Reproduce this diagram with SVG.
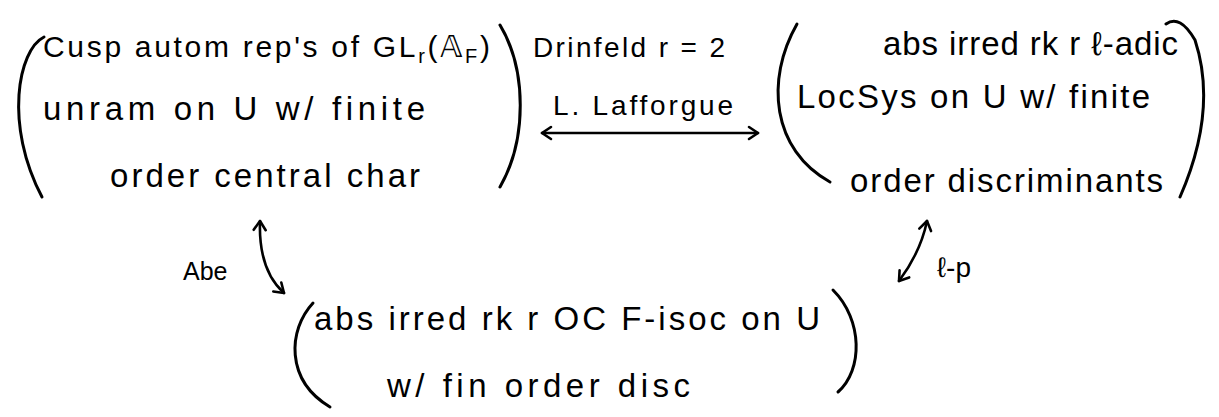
<svg xmlns="http://www.w3.org/2000/svg" width="1219" height="417" viewBox="0 0 1219 417">
<style>
.t{font-family:"Liberation Sans","DejaVu Sans",sans-serif;font-size:33px;fill:#000}
.t1{font-size:30px}
.s{font-size:20px}
.lbl{font-family:"Liberation Sans","DejaVu Sans",sans-serif;font-size:28px;fill:#000}
.sm{font-size:25px}
.br{fill:none;stroke:#000;stroke-width:3;stroke-linecap:round}
.ar{fill:none;stroke:#000;stroke-width:2.6;stroke-linecap:round}
</style>
<defs>
<marker id="h" markerUnits="userSpaceOnUse" viewBox="-12 -8 14 16" markerWidth="14" markerHeight="16" refX="0" refY="0" orient="auto-start-reverse">
<path d="M -9 -6 L 0 0 L -9 6" fill="none" stroke="#000" stroke-width="2.6" stroke-linecap="round" stroke-linejoin="round"/>
</marker>
</defs>
<rect width="1219" height="417" fill="#fff"/>
<g id="node-automorphic">
<path class="br" d="M 44 37 C 18 50, 4 125, 42 197"/>
<path class="br" d="M 500 25 C 527 70, 527 140, 500 187"/>
<text class="t t1" x="43" y="57" textLength="447">Cusp autom rep's of GL<tspan class="s" dy="6">r</tspan><tspan dy="-6">(𝔸</tspan><tspan class="s" dy="6">F</tspan><tspan dy="-6">)</tspan></text>
<text class="t" x="43" y="120" textLength="382">unram on U w/ finite</text>
<text class="t" x="110" y="187" textLength="310">order central char</text>
</g>
<g id="node-ladic">
<path class="br" d="M 797 24 C 765 80, 772 150, 830 182"/>
<path class="br" d="M 1166 24 Q 1180 14 1195 40 Q 1218 110 1180 197"/>
<text class="t" x="883" y="55" textLength="295">abs irred rk r ℓ-adic</text>
<text class="t" x="797" y="108" textLength="353">LocSys on U w/ finite</text>
<text class="t" x="850" y="192" textLength="313">order discriminants</text>
</g>
<g id="node-isocrystal">
<path class="br" d="M 313 303 C 288 330, 285 380, 330 407"/>
<path class="br" d="M 833 290 C 863 320, 863 370, 838 392"/>
<text class="t" x="314" y="330" textLength="506">abs irred rk r OC F-isoc on U</text>
<text class="t" x="387" y="397" textLength="303">w/ fin order disc</text>
</g>
<g id="connectors">
<path class="ar" d="M 542 133 L 758 133" marker-start="url(#h)" marker-end="url(#h)"/>
<text class="lbl" x="533" y="57" textLength="192">Drinfeld r = 2</text>
<text class="lbl" x="553" y="115" textLength="180">L. Lafforgue</text>
<path class="ar" d="M 260 221 C 259 250, 265 276, 284 293" marker-start="url(#h)" marker-end="url(#h)"/>
<text class="lbl sm" x="183" y="280">Abe</text>
<path class="ar" d="M 927 221 C 922 245, 911 265, 899 281" marker-start="url(#h)" marker-end="url(#h)"/>
<text class="lbl" x="937" y="277">ℓ-p</text>
</g>
</svg>
